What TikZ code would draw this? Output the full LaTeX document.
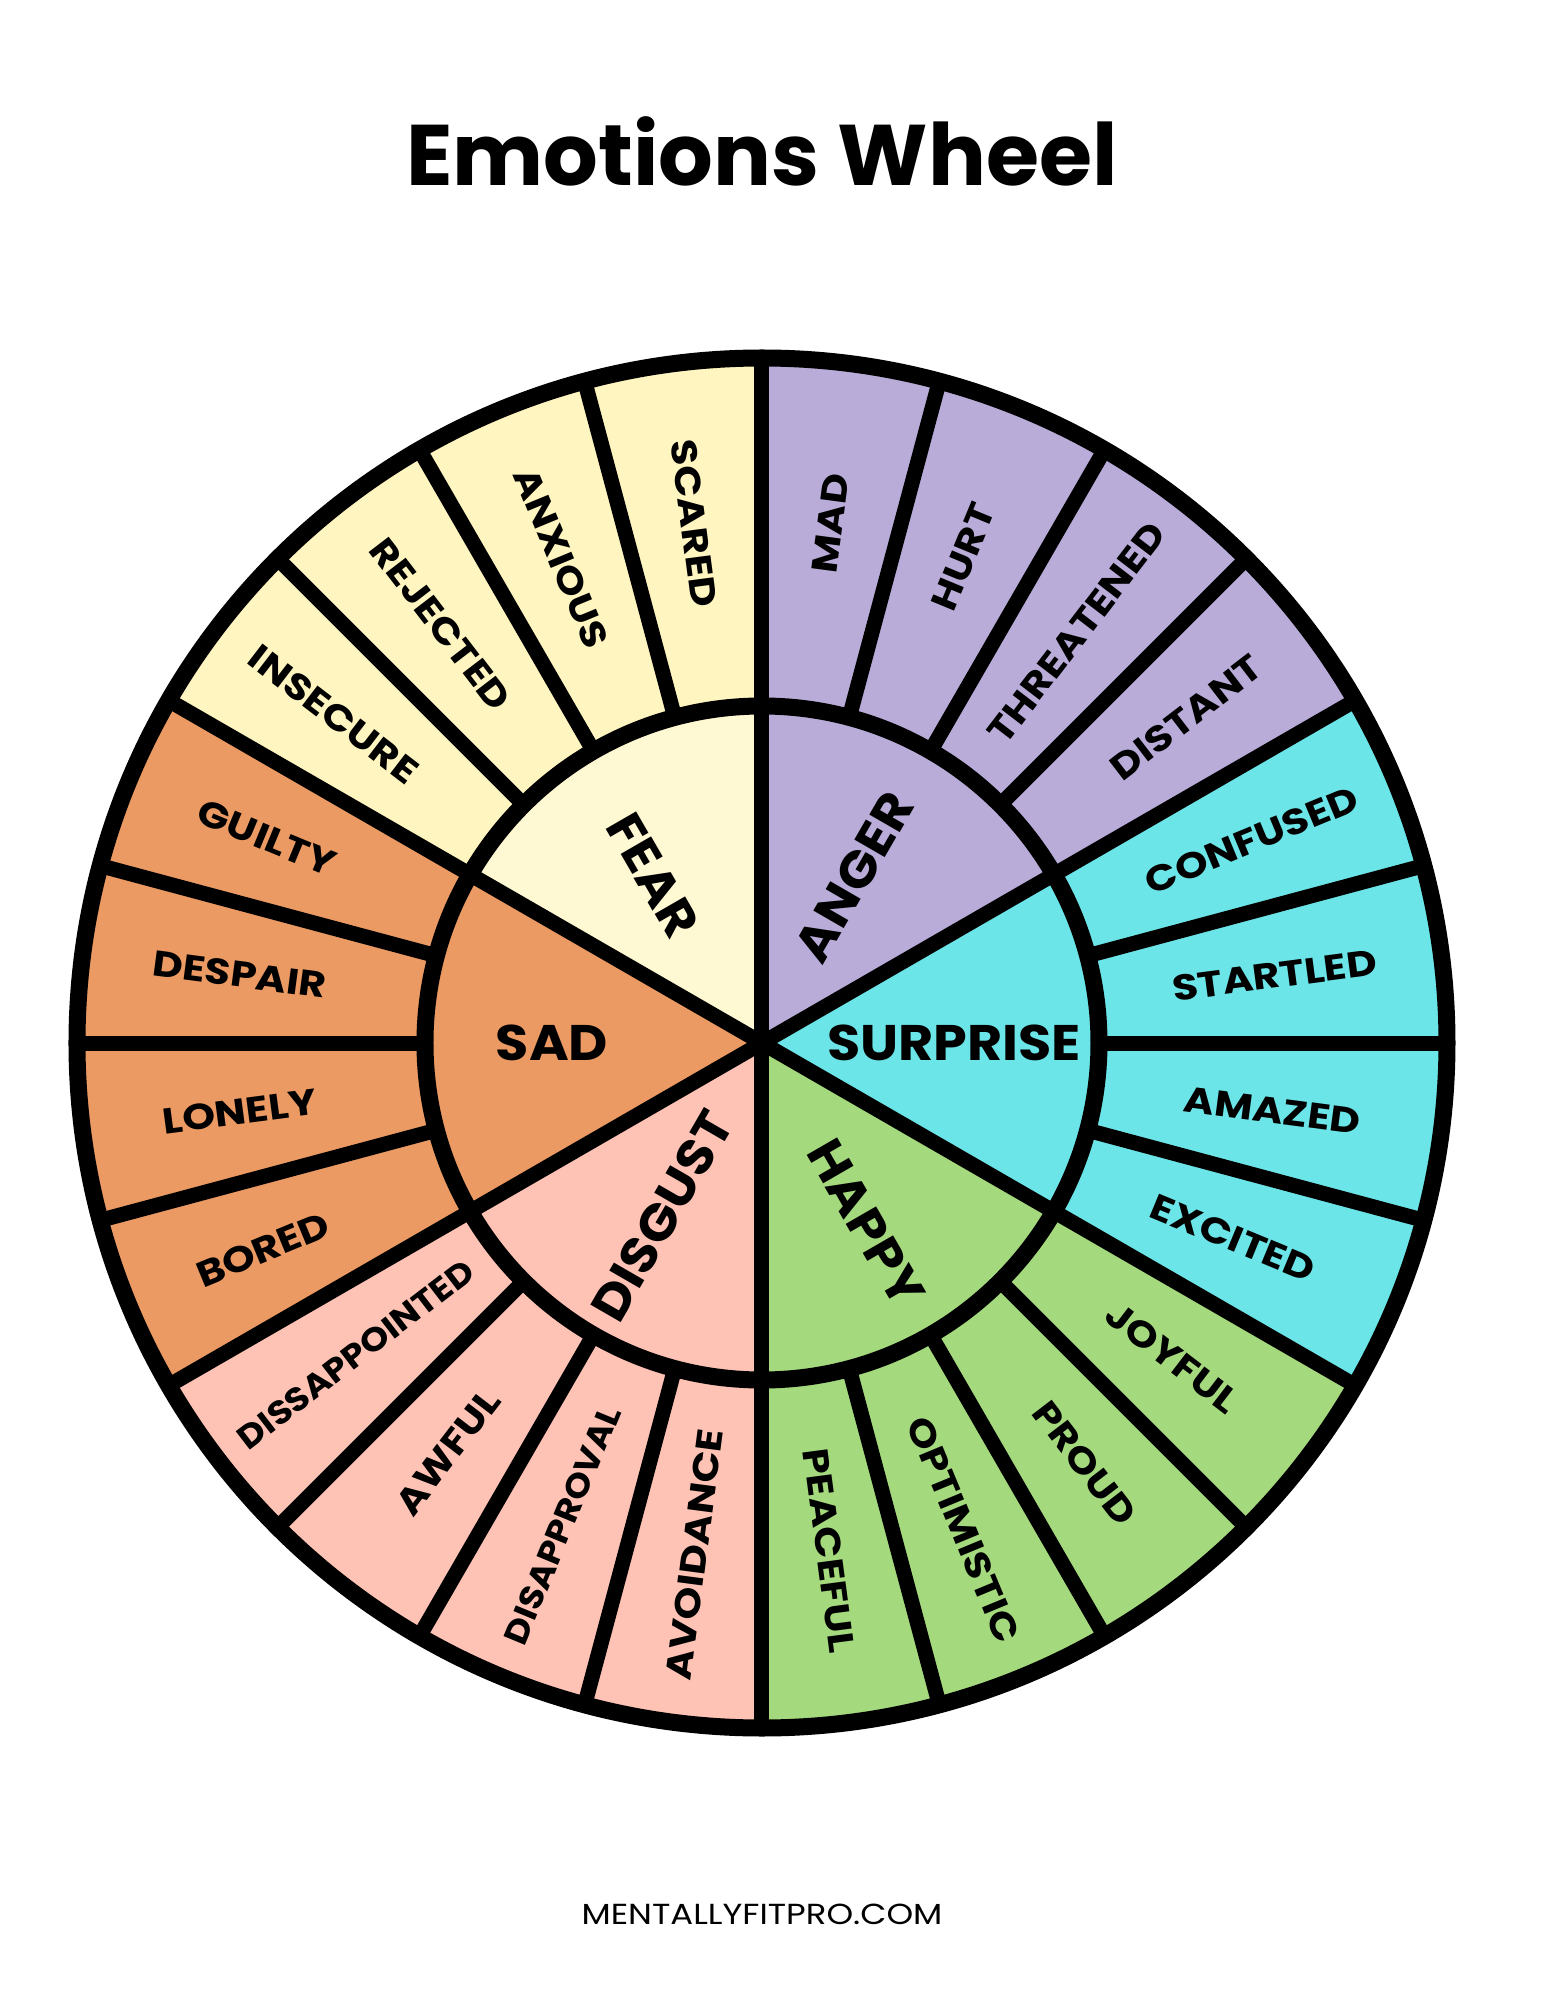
\documentclass[tikz,border=0pt]{standalone}
\usepackage{fontspec}
\setmainfont{Poppins}
\newfontfamily\outfont{Poppins}[FakeStretch=1.16]
\newfontfamily\smallout{Poppins}[FakeStretch=1.10]
\newfontfamily\infont{Poppins}[FakeStretch=1.08]
\newfontfamily\footfont{Poppins}[FakeStretch=1.17]
\definecolor{fearO}{HTML}{FFF5C0}
\definecolor{fearI}{HTML}{FFF9D3}
\definecolor{angerC}{HTML}{B9ACD9}
\definecolor{surpC}{HTML}{6CE5E8}
\definecolor{happyC}{HTML}{A5D97D}
\definecolor{disgC}{HTML}{FEC3B5}
\definecolor{sadC}{HTML}{EA9A62}
\tikzset{
  divline/.style={line width=15pt, black},
  ringline/.style={line width=17pt, black},
  outerlbl/.style={font=\outfont\fontsize{36}{40}\selectfont\bfseries, inner sep=0pt},
  smalllbl/.style={font=\smallout\fontsize{33}{36}\selectfont\bfseries, inner sep=0pt},
  innerlbl/.style={font=\infont\fontsize{50}{54}\selectfont\bfseries, inner sep=0pt},
}
\begin{document}
\begin{tikzpicture}[x=1pt,y=1pt]
\useasboundingbox (-762,-957) rectangle (783,1043);
\def\rin{337}
\def\rout{685}
% outer segment fills
\foreach \col [count=\g from 0] in {fearO,sadC,disgC,happyC,surpC,angerC}{
  \pgfmathsetmacro\aa{90+60*\g}
  \pgfmathsetmacro\ab{150+60*\g}
  \fill[\col] (\aa:\rin) arc[start angle=\aa, end angle=\ab, radius=\rin]
     -- (\ab:\rout) arc[start angle=\ab, end angle=\aa, radius=\rout] -- cycle;
}
% inner sector fills
\foreach \col [count=\g from 0] in {fearI,sadC,disgC,happyC,surpC,angerC}{
  \pgfmathsetmacro\aa{90+60*\g}
  \pgfmathsetmacro\ab{150+60*\g}
  \fill[\col] (0,0) -- (\aa:\rin) arc[start angle=\aa, end angle=\ab, radius=\rin] -- cycle;
}
% dividers
\foreach \a in {0,15,...,345}{
  \draw[divline] (\a:\rin) -- (\a:\rout);
}
\foreach \a in {30,90,...,330}{
  \draw[divline] (0,0) -- (\a:\rin);
}
\draw[ringline] (0,0) circle[radius=\rin];
\draw[ringline] (0,0) circle[radius=\rout];
% outer labels
\foreach \txt/\r/\sty [count=\k from 0] in {SCARED/524/outerlbl,ANXIOUS/525/outerlbl,REJECTED/528/outerlbl,INSECURE/540/outerlbl,GUILTY/536/outerlbl,DESPAIR/527/outerlbl,LONELY/527/outerlbl,BORED/540/outerlbl,DISSAPPOINTED/512/smalllbl,AWFUL/516/outerlbl,DISAPPROVAL/522/smalllbl,AVOIDANCE/516/outerlbl,PEACEFUL/512/outerlbl,OPTIMISTIC/527/outerlbl,PROUD/530/outerlbl,JOYFUL/517/outerlbl,EXCITED/510/outerlbl,AMAZED/515/outerlbl,STARTLED/517/outerlbl,CONFUSED/530/outerlbl,DISTANT/535/outerlbl,THREATENED/517/outerlbl,HURT/526/outerlbl,MAD/524/outerlbl}{
  \pgfmathsetmacro\a{97.5+15*\k}
  \pgfmathsetmacro\rot{ifthenelse(and(\a>90,\a<270),\a-180,\a)}
  \node[\sty, rotate=\rot] (out\k) at (\a:\r) {\txt};
}
% inner labels
\node[innerlbl, rotate=-60] (fear) at (123:200) {FEAR};
\node[innerlbl, rotate=0] (sad) at (180:210) {SAD};
\node[innerlbl, rotate=60] (disgust) at (240:200) {DISGUST};
\node[innerlbl, rotate=-60] (happy) at (300:208) {HAPPY};
\node[innerlbl, rotate=0] (surprise) at (0:192) {SURPRISE};
\node[innerlbl, rotate=60] (anger) at (61:190) {ANGER};
% title and footer
\node[anchor=base, font=\fontsize{86}{90}\selectfont\bfseries, inner sep=0pt] (title) at (0,857) {Emotions Wheel};
\node[anchor=base, font=\footfont\fontsize{29}{32}\selectfont, inner sep=0pt] (footer) at (0,-881) {MENTALLYFITPRO.COM};
\end{tikzpicture}
\end{document}
